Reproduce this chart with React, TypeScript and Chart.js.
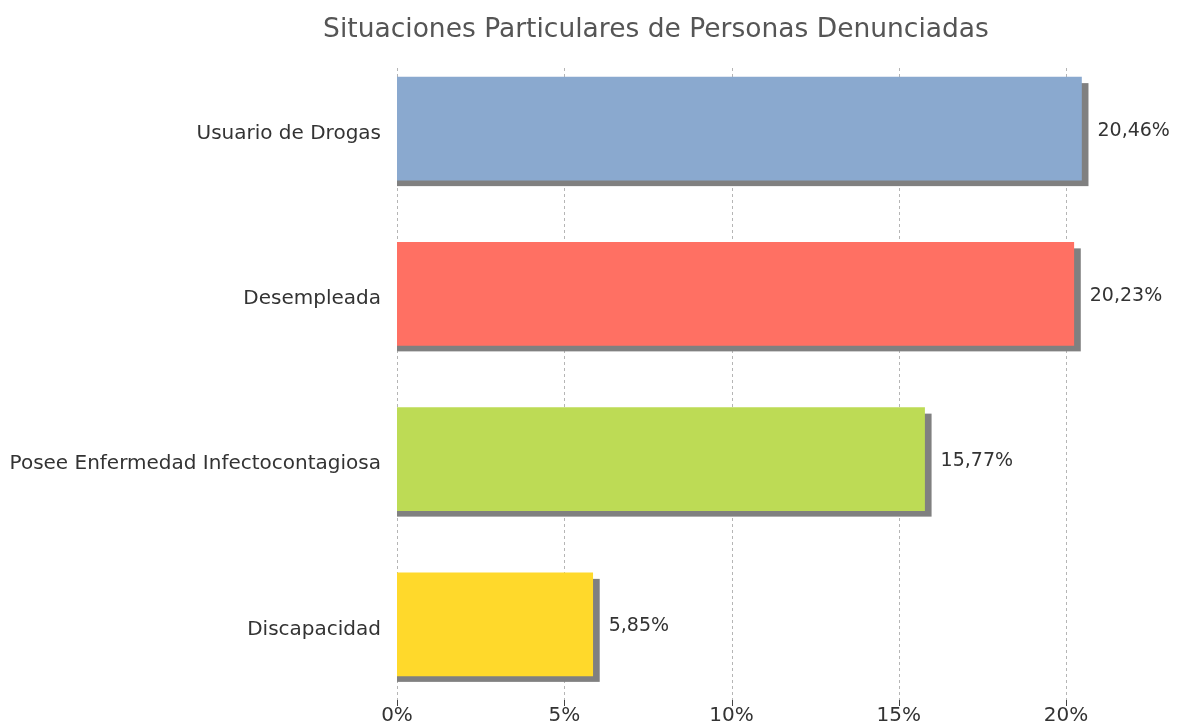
import React, { useEffect, useRef } from "react";
import { Chart, registerables } from "chart.js";

Chart.register(...registerables);

const chartTitle = "Situaciones Particulares de Personas Denunciadas";
const categories = [
  "Usuario de Drogas",
  "Desempleada",
  "Posee Enfermedad Infectocontagiosa",
  "Discapacidad",
];
const values = [20.46, 20.23, 15.77, 5.85];
const barColors = ["#8aa9cf", "#ff7063", "#bddb55", "#ffd92b"];
const xTickValues = [0, 5, 10, 15, 20];

const FONT = "'DejaVu Sans', sans-serif";

const fmt = (v: number) => v.toFixed(2).replace(".", ",") + "%";

const decorPlugin = {
  id: "decor",
  beforeDatasetsDraw(chart: any) {
    const { ctx, chartArea } = chart;
    const xs = chart.scales.x;
    ctx.save();
    xTickValues.forEach((v) => {
      const px = Math.round(xs.getPixelForValue(v)) + 0.5;
      ctx.strokeStyle = "rgba(120,120,120,0.55)";
      ctx.lineWidth = 1;
      ctx.setLineDash([3, 3]);
      ctx.beginPath();
      ctx.moveTo(px, chartArea.top + 22);
      ctx.lineTo(px, chartArea.bottom - 7);
      ctx.stroke();
      ctx.setLineDash([]);
      ctx.strokeStyle = "#444";
      ctx.beginPath();
      ctx.moveTo(px, chartArea.bottom - 7);
      ctx.lineTo(px, chartArea.bottom - 1);
      ctx.stroke();
    });
    const meta = chart.getDatasetMeta(0);
    ctx.fillStyle = "#808080";
    meta.data.forEach((el: any) => {
      const p = el.getProps(["x", "y", "base", "height"], true);
      const top = p.y - p.height / 2;
      ctx.fillRect(p.base, top + 6, p.x - p.base + 7, p.height);
    });
    ctx.restore();
  },
  afterDatasetsDraw(chart: any) {
    const { ctx } = chart;
    const meta = chart.getDatasetMeta(0);
    ctx.save();
    ctx.font = `19px ${FONT}`;
    ctx.fillStyle = "#333";
    ctx.textAlign = "left";
    ctx.textBaseline = "middle";
    meta.data.forEach((el: any, i: number) => {
      const p = el.getProps(["x", "y"], true);
      ctx.fillText(fmt(values[i]), p.x + 16, p.y + 2);
    });
    ctx.restore();
  },
  afterDraw(chart: any) {
    const { ctx } = chart;
    ctx.save();
    ctx.font = `26.5px ${FONT}`;
    ctx.fillStyle = "#555";
    ctx.textAlign = "center";
    ctx.textBaseline = "middle";
    ctx.fillText(chartTitle, 656, 30);
    ctx.restore();
  },
};

export default function App() {
  const ref = useRef<HTMLCanvasElement>(null);
  useEffect(() => {
    document.body.style.margin = "0";
    const chart = new Chart(ref.current as HTMLCanvasElement, {
      type: "bar",
      data: {
        labels: categories,
        datasets: [
          {
            data: values,
            backgroundColor: barColors,
            borderWidth: 0,
            barThickness: 103,
          },
        ],
      },
      options: {
        indexAxis: "y",
        animation: false,
        responsive: false,
        devicePixelRatio: 1,
        layout: { padding: { top: 46, right: 45, left: 0, bottom: 0 } },
        plugins: {
          legend: { display: false },
          tooltip: { enabled: false },
          title: { display: false },
        },
        scales: {
          x: {
            type: "linear",
            min: 0,
            max: 22,
            position: "bottom",
            grid: { display: false, drawTicks: false },
            border: { display: false },
            ticks: {
              font: { family: FONT, size: 20 },
              color: "#333",
              padding: -3,
              callback: (v: any) => v + "%",
            },
            afterBuildTicks: (s: any) => {
              s.ticks = xTickValues.map((v) => ({ value: v }));
            },
            afterFit: (s: any) => {
              s.height = 19;
            },
          },
          y: {
            type: "category",
            grid: { display: false, drawTicks: false },
            border: { display: false },
            ticks: {
              font: { family: FONT, size: 20 },
              color: "#333",
              padding: 16,
              labelOffset: 5,
            },
            afterFit: (s: any) => {
              s.width = 397;
              s.paddingTop = 0;
              s.paddingBottom = 0;
            },
          },
        },
      } as any,
      plugins: [decorPlugin],
    });
    return () => chart.destroy();
  }, []);
  return <canvas ref={ref} width={1178} height={726} />;
}
